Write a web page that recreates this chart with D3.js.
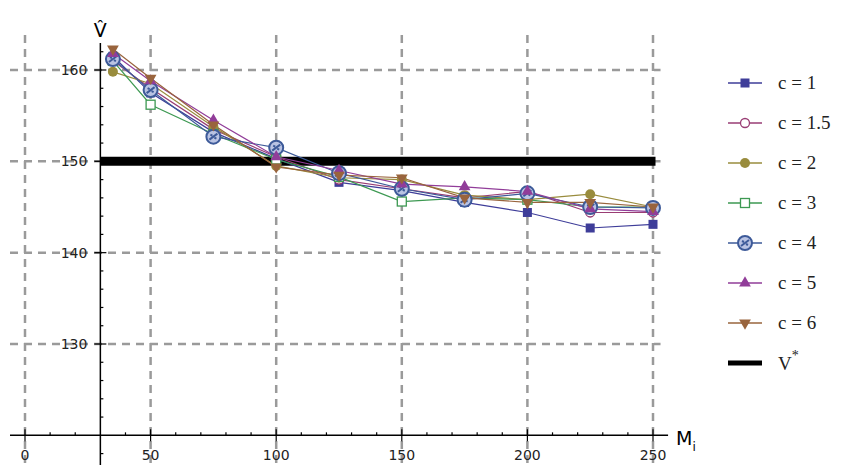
<!DOCTYPE html>
<html>
<head>
<meta charset="utf-8">
<script src="https://cdn.jsdelivr.net/npm/d3@7"></script>
<style>
  body { margin: 0; background: #fff; }
  svg { display: block; }
  .tick-label { font-family: "DejaVu Sans", sans-serif; font-size: 14px; fill: #222; }
  .leg-text { font-family: "Liberation Serif", serif; font-size: 19px; fill: #222; }
</style>
</head>
<body>
<div id="chart"></div>
<script>
// Data
var mValues = [35, 50, 75, 100, 125, 150, 175, 200, 225, 250];
var seriesNames = ["c = 1", "c = 1.5", "c = 2", "c = 3", "c = 4", "c = 5", "c = 6"];
var c1  = [161.5, 157.5, 153.2, 150.3, 147.7, 146.8, 145.5, 144.4, 142.7, 143.1];
var c15 = [161.0, 158.0, 153.5, 150.5, 148.0, 147.0, 146.0, 146.7, 144.4, 144.4];
var c2  = [159.8, 158.5, 153.8, 149.5, 148.2, 148.0, 146.3, 145.8, 146.4, 145.0];
var c3  = [161.0, 156.2, 153.0, 150.2, 148.3, 145.6, 146.0, 145.8, 145.0, 145.0];
var c4  = [161.2, 157.8, 152.7, 151.5, 148.7, 147.0, 145.8, 146.5, 145.0, 144.9];
var c5  = [161.8, 158.8, 154.5, 150.5, 149.0, 147.5, 147.2, 146.7, 144.8, 144.5];
var c6  = [162.3, 159.1, 154.0, 149.4, 148.5, 148.2, 146.0, 145.5, 145.5, 145.0];
var vStar = 150;
var xTicks = [0, 50, 100, 150, 200, 250];
var yTicks = [130, 140, 150, 160];

var allSeries = [c1, c15, c2, c3, c4, c5, c6];
var colors = ["#3e3d99", "#993d74", "#998c3d", "#3d9952", "#3d5a99", "#913d99", "#99643d"];
var markers = ["square", "circle-open", "circle", "square-open", "circle-star", "triangle", "triangle-down"];

var width = 849, height = 465;

var svg = d3.select("#chart").append("svg")
    .attr("width", width)
    .attr("height", height);

var x = d3.scaleLinear().domain([0, 250]).range([25, 653]);
var y = d3.scaleLinear().domain([130, 160]).range([344, 70]);

var xOrigin = 30, yOrigin = 120;

// Dashed grid
svg.selectAll(".vgrid").data(xTicks).enter().append("line")
    .attr("x1", d => x(d)).attr("x2", d => x(d))
    .attr("y1", 35).attr("y2", height)
    .attr("stroke", "#9a9a9a").attr("stroke-width", 2.5)
    .attr("stroke-dasharray", "8,6");
svg.selectAll(".hgrid").data(yTicks).enter().append("line")
    .attr("x1", 10).attr("x2", x(253))
    .attr("y1", d => y(d)).attr("y2", d => y(d))
    .attr("stroke", "#9a9a9a").attr("stroke-width", 2.5)
    .attr("stroke-dasharray", "8,6");

// Axes crossing at (30, 120)
svg.append("line").attr("x1", 10).attr("x2", x(256))
    .attr("y1", y(yOrigin)).attr("y2", y(yOrigin))
    .attr("stroke", "#000").attr("stroke-width", 1.5);
svg.append("line").attr("x1", x(xOrigin)).attr("x2", x(xOrigin))
    .attr("y1", 43).attr("y2", height)
    .attr("stroke", "#000").attr("stroke-width", 1.5);

// tick marks
d3.range(0, 251, 10).forEach(function(t) {
  if (t === xOrigin) return;
  var major = t % 50 === 0;
  svg.append("line").attr("x1", x(t)).attr("x2", x(t))
    .attr("y1", y(yOrigin) - (major ? 6 : 3)).attr("y2", y(yOrigin) + (major ? 6 : 0))
    .attr("stroke", "#000").attr("stroke-width", 1.2);
});
d3.range(118, 163, 2).forEach(function(t) {
  if (t === yOrigin) return;
  var major = t % 10 === 0;
  svg.append("line").attr("x1", x(xOrigin) - (major ? 6 : 0)).attr("x2", x(xOrigin) + (major ? 6 : 3))
    .attr("y1", y(t)).attr("y2", y(t))
    .attr("stroke", "#000").attr("stroke-width", 1.2);
});

// tick labels
svg.selectAll(".xl").data(xTicks).enter().append("text")
    .attr("class", "tick-label")
    .attr("x", d => x(d)).attr("y", y(yOrigin) + 25)
    .attr("text-anchor", "middle")
    .text(d => d);
svg.selectAll(".yl").data(yTicks).enter().append("text")
    .attr("class", "tick-label")
    .attr("x", x(xOrigin) - 13).attr("y", d => y(d) + 5)
    .attr("text-anchor", "end")
    .text(d => d);

// axis labels
svg.append("text").attr("x", x(xOrigin)).attr("y", 37)
    .attr("text-anchor", "middle")
    .style("font-family", "DejaVu Sans, sans-serif").style("font-size", "19px")
    .text("V\u0302");
var mLab = svg.append("text").attr("x", 676).attr("y", 445)
    .style("font-family", "DejaVu Sans, sans-serif").style("font-size", "19px")
    .text("M");
mLab.append("tspan").attr("dy", 6).style("font-size", "12px").text("i");

// V* line
svg.append("line")
    .attr("x1", x(xOrigin)).attr("x2", x(251))
    .attr("y1", y(vStar)).attr("y2", y(vStar))
    .attr("stroke", "#000").attr("stroke-width", 9);

// marker drawing
function drawMarker(g, type, color, cx, cy) {
  var s = 9;
  if (type === "square") {
    g.append("rect").attr("x", cx - s / 2).attr("y", cy - s / 2).attr("width", s).attr("height", s)
      .attr("fill", color);
  } else if (type === "square-open") {
    g.append("rect").attr("x", cx - s / 2).attr("y", cy - s / 2).attr("width", s).attr("height", s)
      .attr("fill", "#fff").attr("stroke", color).attr("stroke-width", 1.3);
  } else if (type === "circle") {
    g.append("circle").attr("cx", cx).attr("cy", cy).attr("r", 5).attr("fill", color);
  } else if (type === "circle-open") {
    g.append("circle").attr("cx", cx).attr("cy", cy).attr("r", 4.5)
      .attr("fill", "#fff").attr("stroke", color).attr("stroke-width", 1.3);
  } else if (type === "circle-star") {
    g.append("circle").attr("cx", cx).attr("cy", cy).attr("r", 7)
      .attr("fill", "#b9c3e3").attr("stroke", color).attr("stroke-width", 2);
    g.append("path")
      .attr("d", "M" + (cx - 4) + "," + (cy + 3) + "L" + (cx + 4) + "," + (cy - 3) +
                 "M" + (cx - 3) + "," + (cy - 2) + "L" + (cx - 1) + "," + (cy - 1) +
                 "M" + (cx + 1) + "," + (cy + 1) + "L" + (cx + 3) + "," + (cy + 2))
      .attr("stroke", color).attr("stroke-width", 2);
  } else if (type === "triangle") {
    g.append("path").attr("d", d3.symbol().type(d3.symbolTriangle).size(60)())
      .attr("transform", "translate(" + cx + "," + cy + ")").attr("fill", color);
  } else if (type === "triangle-down") {
    g.append("path").attr("d", d3.symbol().type(d3.symbolTriangle).size(60)())
      .attr("transform", "translate(" + cx + "," + cy + ") rotate(180)").attr("fill", color);
  }
}

var line = d3.line().x((d, i) => x(mValues[i])).y(d => y(d));

allSeries.forEach(function(vals, k) {
  svg.append("path").datum(vals)
    .attr("d", line)
    .attr("fill", "none")
    .attr("stroke", colors[k])
    .attr("stroke-width", 1.2);
});
allSeries.forEach(function(vals, k) {
  var g = svg.append("g");
  vals.forEach(function(v, i) {
    drawMarker(g, markers[k], colors[k], x(mValues[i]), y(v));
  });
});

// Legend
var legY0 = 83, legStep = 40;
seriesNames.forEach(function(name, k) {
  var ly = legY0 + k * legStep;
  var g = svg.append("g");
  g.append("line").attr("x1", 728).attr("x2", 762).attr("y1", ly).attr("y2", ly)
    .attr("stroke", colors[k]).attr("stroke-width", 1.3);
  drawMarker(g, markers[k], colors[k], 745, ly);
  g.append("text").attr("class", "leg-text").attr("x", 778).attr("y", ly + 6).text(name);
});
var vy = legY0 + 7 * legStep;
svg.append("line").attr("x1", 728).attr("x2", 762).attr("y1", vy).attr("y2", vy)
  .attr("stroke", "#000").attr("stroke-width", 5);
var vt = svg.append("text").attr("class", "leg-text").attr("x", 778).attr("y", vy + 7).text("V");
vt.append("tspan").attr("dy", -10).style("font-size", "14px").text("*");
</script>
</body>
</html>
